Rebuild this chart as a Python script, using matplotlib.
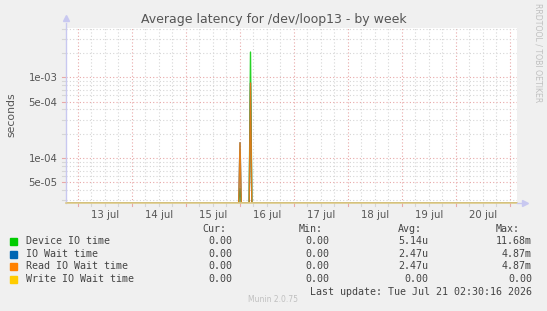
import matplotlib
matplotlib.use("Agg")
import matplotlib.pyplot as plt
import matplotlib.dates as mdates
from matplotlib.ticker import NullFormatter, FixedLocator
from datetime import datetime, timedelta
import numpy as np

# ---------------- data ----------------
title = "Average latency for /dev/loop13 - by week"
ylabel = "seconds"
series_names = ["Device IO time", "IO Wait time", "Read IO Wait time", "Write IO Wait time"]
series_colors = ["#00CC00", "#0066B3", "#FF8000", "#FFCC00"]
spike_times = [datetime(2026, 7, 16, 0, 0), datetime(2026, 7, 16, 4, 40)]
device_io = [4.2e-5, 2.05e-3]
io_wait = [1.55e-4, 8.5e-4]
read_io_wait = [1.55e-4, 8.5e-4]
write_io_wait = [0.0, 0.0]
cur_vals = ["0.00", "0.00", "0.00", "0.00"]
min_vals = ["0.00", "0.00", "0.00", "0.00"]
avg_vals = ["5.14u", "2.47u", "2.47u", "0.00"]
max_vals = ["11.68m", "4.87m", "4.87m", "0.00"]
day_labels = ["13 jul", "14 jul", "15 jul", "16 jul", "17 jul", "18 jul", "19 jul", "20 jul"]
ytick_vals = [5e-5, 1e-4, 5e-4, 1e-3]
ytick_labels = ["5e-05", "1e-04", "5e-04", "1e-03"]
t_start = datetime(2026, 7, 12, 18, 40)
t_end = datetime(2026, 7, 21, 3, 7)
last_update = "Last update: Tue Jul 21 02:30:16 2026"
version = "Munin 2.0.75"

# ---------------- figure ----------------
W, H = 547, 311
fig = plt.figure(figsize=(W / 100, H / 100), dpi=100)
fig.patch.set_facecolor("#F0F0F0")
px_l, px_r, px_t, px_b = 66, 517, 28, 203
ax = fig.add_axes([px_l / W, 1 - px_b / H, (px_r - px_l) / W, (px_b - px_t) / H])
ax.set_facecolor("white")

ymin, ymax = 2.78e-5, 4.07e-3
ax.set_yscale("log")
ax.set_ylim(ymin, ymax)
x0, x1 = mdates.date2num(t_start), mdates.date2num(t_end)
ax.set_xlim(x0, x1)

# grid
red = "#E8A8A8"
gray = "#D6D6D6"
dot = (0, (1, 2))
glw = 0.8
day0 = datetime(2026, 7, 13)
for i in range(-1, 10):
    for h in range(0, 24, 6):
        t = mdates.date2num(day0 + timedelta(days=i, hours=h))
        if x0 < t < x1:
            c = red if h == 0 else gray
            ax.axvline(t, color=c, lw=glw, ls=dot, zorder=1)
            ax.plot([t, t], [0, -0.015], transform=ax.get_xaxis_transform(),
                    color=c, lw=glw, clip_on=False)
for dec in [1e-5, 1e-4, 1e-3]:
    for m in range(1, 10):
        v = dec * m
        if ymin < v < ymax:
            c = red if m in (1, 5) else gray
            ax.axhline(v, color=c, lw=glw, ls=dot, zorder=1)
            ax.plot([-0.008, 0], [v, v], transform=ax.get_yaxis_transform(),
                    color=c, lw=glw, clip_on=False)

# series
vals_list = [device_io, io_wait, read_io_wait, write_io_wait]
for name, vals, col in zip(series_names, vals_list, series_colors):
    ts = [t_start]
    vs = [0.0]
    for t, v in zip(spike_times, vals):
        ts += [t - timedelta(minutes=35), t, t + timedelta(minutes=35)]
        vs += [0.0, v, 0.0]
    ts.append(t_end)
    vs.append(0.0)
    vs = np.array(vs)
    vs = np.where(vs <= 0, ymin, vs)
    ax.plot(mdates.date2num(ts), vs, color=col, lw=1.0, zorder=3, alpha=0.85)

# ticks
ax.yaxis.set_major_locator(FixedLocator(ytick_vals))
ax.yaxis.set_minor_locator(FixedLocator([]))
ax.set_yticklabels(ytick_labels)
ax.yaxis.set_minor_formatter(NullFormatter())
noons = [mdates.date2num(day0 + timedelta(days=i, hours=12)) for i in range(len(day_labels))]
ax.set_xticks(noons)
ax.set_xticklabels(day_labels)
ax.tick_params(axis="both", length=0, labelsize=7.3, colors="#555555", pad=5)
ax.tick_params(axis="y", pad=6)

for s in ax.spines.values():
    s.set_visible(False)
axis_col = "#C8C8F0"
ax.plot([0, 0], [0, 1.03], transform=ax.transAxes, color=axis_col, lw=1, clip_on=False, zorder=4)
ax.plot([0, 1.0], [0, 0], transform=ax.transAxes, color="#DCCB8C", lw=1.2, clip_on=False, zorder=5)
ax.plot([1.0, 1.015], [0, 0], transform=ax.transAxes, color=axis_col, lw=1, clip_on=False, zorder=5)
ax.plot([0], [1.055], transform=ax.transAxes, marker="^", ms=5, color=axis_col, clip_on=False)
ax.plot([1.018], [0], transform=ax.transAxes, marker=">", ms=5, color=axis_col, clip_on=False)

fig.text(273.5 / W, 1 - 19 / H, title, ha="center", va="center", fontsize=9.0, color="#555555")
fig.text(11 / W, 1 - 115 / H, ylabel, ha="center", va="center", rotation=90, fontsize=7.8, color="#555555")
fig.text(538 / W, 1 - 53 / H, "RRDTOOL / TOBI OETIKER", ha="center", va="center", rotation=270,
         fontsize=5.6, color="#C0C0C0")

mono = "DejaVu Sans Mono"
fs = 7.2
tc = "#444444"
fig.text(226 / W, 1 - 229 / H, "Cur:", ha="right", va="center", family=mono, fontsize=fs, color=tc)
fig.text(323 / W, 1 - 229 / H, "Min:", ha="right", va="center", family=mono, fontsize=fs, color=tc)
fig.text(422 / W, 1 - 229 / H, "Avg:", ha="right", va="center", family=mono, fontsize=fs, color=tc)
fig.text(520 / W, 1 - 229 / H, "Max:", ha="right", va="center", family=mono, fontsize=fs, color=tc)
rows_y = [241, 254, 266, 279]
for i, name in enumerate(series_names):
    y = 1 - rows_y[i] / H
    fig.patches.append(plt.Rectangle((10 / W, 1 - (rows_y[i] + 3.5) / H), 7 / W, 7 / H,
                                     transform=fig.transFigure, color=series_colors[i]))
    fig.text(26 / W, y, name, ha="left", va="center", family=mono, fontsize=fs, color=tc)
    fig.text(232 / W, y, cur_vals[i], ha="right", va="center", family=mono, fontsize=fs, color=tc)
    fig.text(329 / W, y, min_vals[i], ha="right", va="center", family=mono, fontsize=fs, color=tc)
    fig.text(428 / W, y, avg_vals[i], ha="right", va="center", family=mono, fontsize=fs, color=tc)
    fig.text(532 / W, y, max_vals[i], ha="right", va="center", family=mono, fontsize=fs, color=tc)
fig.text(532 / W, 1 - 292 / H, last_update, ha="right", va="center", family=mono, fontsize=fs, color=tc)
fig.text(273 / W, 1 - 300 / H, version, ha="center", va="center", fontsize=5.5, color="#C0C0C0")

fig.savefig("out.png", dpi=100, facecolor=fig.get_facecolor())
